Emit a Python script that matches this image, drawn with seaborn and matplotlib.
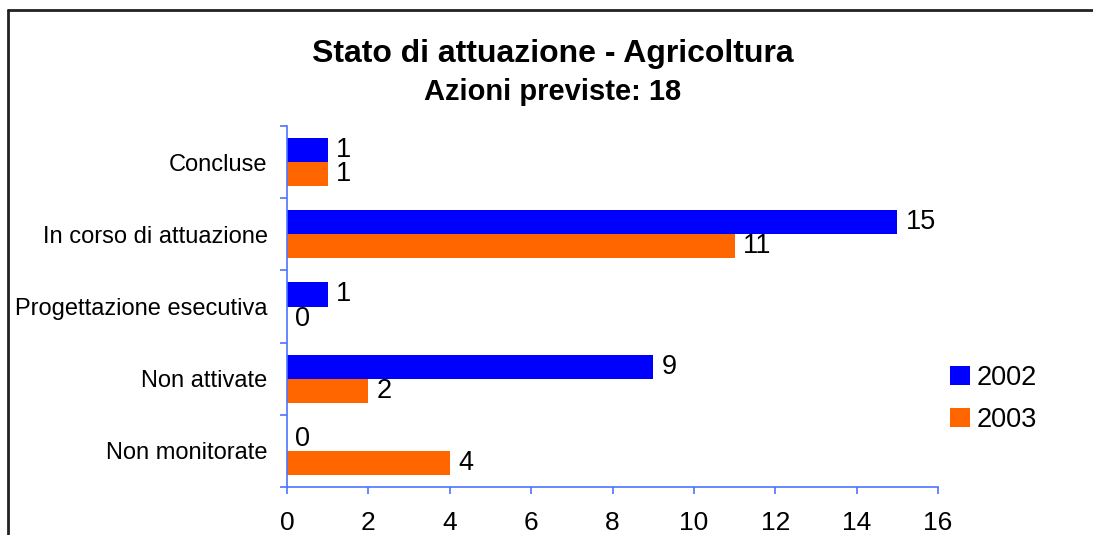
import numpy as np
import pandas as pd
import matplotlib
matplotlib.use('Agg')
import matplotlib.pyplot as plt
from matplotlib.lines import Line2D
import seaborn as sns

categories = ['Concluse', 'In corso di attuazione', 'Progettazione esecutiva',
              'Non attivate', 'Non monitorate']
years = ['2002', '2003']
values_2002 = [1, 15, 1, 9, 0]
values_2003 = [1, 11, 0, 2, 4]
x_ticks = [0, 2, 4, 6, 8, 10, 12, 14, 16]

df = pd.DataFrame({
    'stato': categories * 2,
    'anno': [years[0]] * len(categories) + [years[1]] * len(categories),
    'azioni': values_2002 + values_2003,
})

sns.set_theme(style='white')
plt.rcParams['font.family'] = ['Liberation Sans', 'DejaVu Sans']
plt.rcParams['text.color'] = 'black'
plt.rcParams['xtick.color'] = 'black'
plt.rcParams['ytick.color'] = 'black'

axis_col = '#4d74ff'

fig = plt.figure(figsize=(10.93, 5.35), dpi=100)
ax = fig.add_axes([0.2626, 0.0897, 0.5956, 0.6748])

sns.barplot(data=df, y='stato', x='azioni', hue='anno', order=categories,
            hue_order=years, palette=['#0000ff', '#ff6600'], width=0.667,
            orient='h', saturation=1, linewidth=0, ax=ax, legend=False)

for cont in ax.containers:
    ax.bar_label(cont, fmt='%d', padding=6, fontsize=19.5, color='black')

ax.set_xlim(0, 16)
ax.set_ylim(len(categories) - 0.5, -0.5)
ax.set_xticks(x_ticks)
ax.set_xticklabels([str(t) for t in x_ticks], fontsize=19)
ax.set_yticks(range(len(categories)))
ax.set_yticklabels(categories, fontsize=17)
ax.set_yticks(np.arange(-0.5, len(categories), 1), minor=True)
ax.set_xlabel('')
ax.set_ylabel('')

for s in ['top', 'right']:
    ax.spines[s].set_visible(False)
for s in ['left', 'bottom']:
    ax.spines[s].set_color(axis_col)
    ax.spines[s].set_linewidth(1.2)

ax.tick_params(axis='y', which='major', length=0, pad=14, labelcolor='black')
ax.tick_params(axis='y', which='minor', length=5, width=1.2, color=axis_col, direction='out', left=True)
ax.tick_params(axis='x', length=5, width=1.2, color=axis_col, direction='out', bottom=True, pad=12,
               labelcolor='black')

# legend
handles = [plt.Rectangle((0, 0), 1, 1, color=c, lw=0) for c in ['#0000ff', '#ff6600']]
fig.legend(handles, years, loc='center left', bbox_to_anchor=(0.847, 0.254),
           frameon=False, fontsize=19.5, handlelength=0.72, handleheight=0.72,
           handletextpad=0.25, labelspacing=0.6)

fig.text(0.506, 0.884, 'Stato di attuazione - Agricoltura', ha='center',
         va='baseline', fontsize=23, fontweight='bold', color='black')
fig.text(0.506, 0.813, 'Azioni previste: 18', ha='center', va='baseline',
         fontsize=21, fontweight='bold', color='black')

# cornice
fig.add_artist(Line2D([0.007, 1.0], [0.981, 0.981], color='#222222', lw=2,
                      transform=fig.transFigure))
fig.add_artist(Line2D([0.007, 0.007], [0.0, 0.981], color='#222222', lw=2,
                      transform=fig.transFigure))

fig.savefig('out.png', dpi=100)
